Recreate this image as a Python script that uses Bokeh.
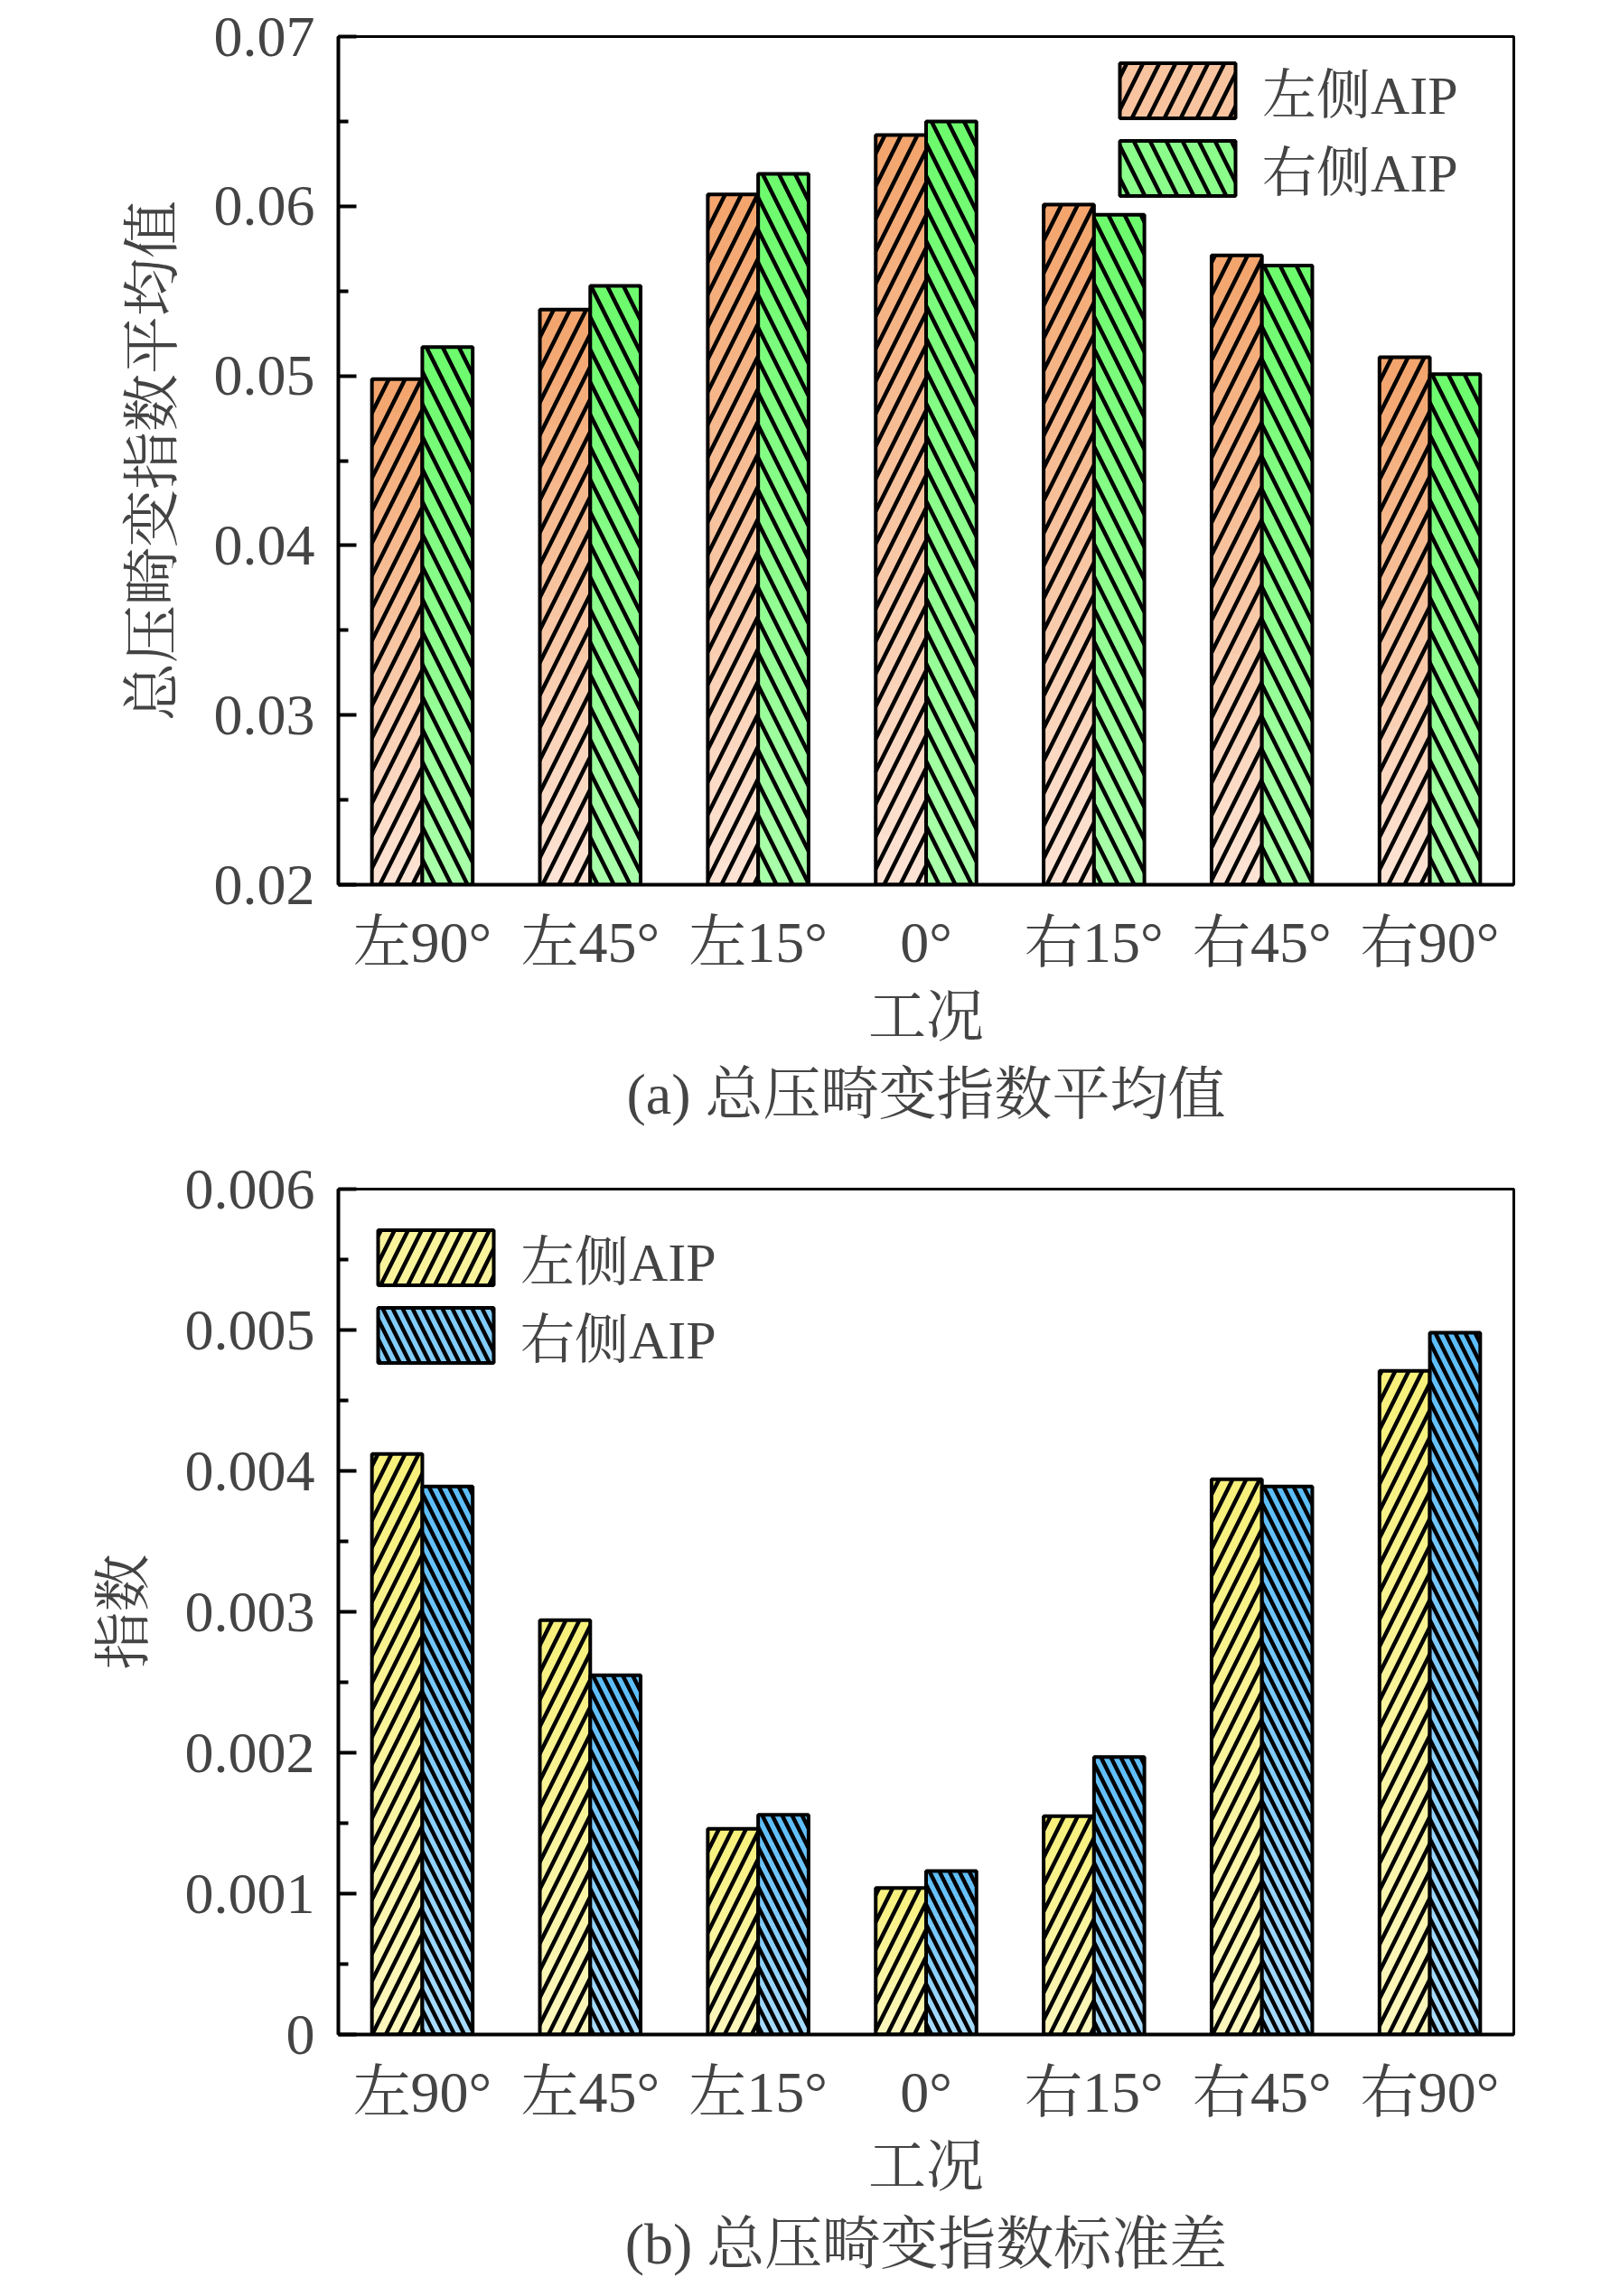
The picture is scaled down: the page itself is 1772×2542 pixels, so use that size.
from bokeh.plotting import figure
from bokeh.layouts import column
from bokeh.models import (ColumnDataSource, Range1d, FixedTicker, Legend, LegendItem, Title,
                          PrintfTickFormatter)
from bokeh.transform import dodge
from bokeh.embed import file_html
from bokeh.resources import INLINE

# data
cases = ["左90°", "左45°", "左15°", "0°", "右15°", "右45°", "右90°"]
series = ["左侧AIP", "右侧AIP"]

mean_left = [0.0498, 0.0539, 0.0607, 0.0642, 0.0601, 0.0571, 0.0511]
mean_right = [0.0517, 0.0553, 0.0619, 0.0650, 0.0595, 0.0565, 0.0501]

std_left = [0.00412, 0.00294, 0.00146, 0.00104, 0.00155, 0.00394, 0.00471]
std_right = [0.00389, 0.00255, 0.00156, 0.00116, 0.00197, 0.00389, 0.00498]

ticks_a = [0.02, 0.03, 0.04, 0.05, 0.06, 0.07]
ticks_b = [0, 0.001, 0.002, 0.003, 0.004, 0.005, 0.006]

FONT = "'Liberation Serif', 'Noto Serif CJK SC', 'Noto Sans CJK SC', serif"
FS = "64px"
NSTRIP = 30


def mix(c1, c2, t):
    a = [int(c1[i:i + 2], 16) for i in (1, 3, 5)]
    b = [int(c2[i:i + 2], 16) for i in (1, 3, 5)]
    return "#%02x%02x%02x" % tuple(round(a[k] + (b[k] - a[k]) * t) for k in range(3))


def gradient_source(values, base, c_low, c_high):
    cat, bot, top, col = [], [], [], []
    for c, v in zip(cases, values):
        h = (v - base) / NSTRIP
        for i in range(NSTRIP):
            cat.append(c)
            bot.append(base + i * h)
            top.append(base + (i + 1) * h + h * 0.05)
            col.append(mix(c_low, c_high, (i + 0.5) / NSTRIP))
    return ColumnDataSource(dict(cat=cat, bottom=bot, top=top, color=col))


def make_panel(vals_l, vals_r, base, y_end, ticks, fmt, ylabel, caption, styles,
               legend_loc, height, border_top, label_over):
    p = figure(x_range=cases, y_range=Range1d(base, y_end), width=1695, height=height,
               output_backend="svg", toolbar_location=None,
               min_border_left=374, min_border_right=20,
               min_border_top=border_top, min_border_bottom=280)
    p.xgrid.grid_line_color = None
    p.ygrid.grid_line_color = None
    p.outline_line_color = "black"
    p.outline_line_width = 3
    p.outline_line_alpha = 1
    p.x_range.range_padding = 0

    items = []
    for vals, off, (c_low, c_high, hatch, hscale, label) in zip(
            (vals_l, vals_r), (-0.15, 0.15), styles):
        src = gradient_source(vals, base, c_low, c_high)
        p.vbar(x=dodge("cat", off, range=p.x_range), bottom="bottom", top="top",
               width=0.3, source=src, fill_color="color", line_color=None)
        bsrc = ColumnDataSource(dict(cat=cases, top=vals))
        p.vbar(x=dodge("cat", off, range=p.x_range), top="top", bottom=base,
               width=0.3, source=bsrc, fill_alpha=0, line_color="black", line_width=4,
               hatch_pattern=hatch, hatch_scale=hscale, hatch_weight=4.5,
               hatch_color="black")
        # zero-height bar on the baseline, only used for the legend swatch
        dummy = p.vbar(x=[cases[0]], top=[base], bottom=[base], width=0.3,
                       fill_color=mix(c_low, c_high, 0.5), line_color="black",
                       line_width=4, hatch_pattern=hatch, hatch_scale=hscale,
                       hatch_weight=4.5, hatch_color="black")
        items.append(LegendItem(label=label, renderers=[dummy]))

    leg = Legend(items=items, location=legend_loc, border_line_color=None,
                 background_fill_alpha=0, glyph_width=160, glyph_height=76,
                 label_text_font=FONT, label_text_font_size="60px", label_standoff=14,
                 spacing=0, padding=0, margin=0)
    p.add_layout(leg)

    ya = p.yaxis[0]
    ya.ticker = FixedTicker(ticks=ticks,
                            minor_ticks=[(a + b) / 2 for a, b in zip(ticks[:-1], ticks[1:])])
    ya.formatter = PrintfTickFormatter(format=fmt)
    ya.major_label_overrides = label_over
    ya.major_tick_in = 20
    ya.major_tick_out = 0
    ya.minor_tick_in = 11
    ya.minor_tick_out = 0
    ya.major_tick_line_width = 4
    ya.minor_tick_line_width = 4
    ya.axis_line_width = 4
    ya.major_label_text_font = FONT
    ya.major_label_text_font_size = FS
    ya.major_label_standoff = 26
    ya.axis_label = ylabel
    ya.axis_label_text_font = FONT
    ya.axis_label_text_font_size = FS
    ya.axis_label_text_font_style = "normal"
    ya.axis_label_standoff = 30

    xa = p.xaxis[0]
    xa.major_tick_line_color = None
    xa.minor_tick_line_color = None
    xa.axis_line_width = 4
    xa.major_label_text_font = FONT
    xa.major_label_text_font_size = FS
    xa.major_label_standoff = 22
    xa.axis_label = "工况"
    xa.axis_label_text_font = FONT
    xa.axis_label_text_font_size = FS
    xa.axis_label_text_font_style = "normal"
    xa.axis_label_standoff = 8

    p.add_layout(Title(text=caption, align="center", text_font=FONT, text_font_size=FS,
                       text_font_style="normal", standoff=20), "below")
    return p


styles_a = [("#fce4d6", "#f3a46b", "right_diagonal_line", 36, series[0]),
            ("#aaffaa", "#6cfb6c", "left_diagonal_line", 36, series[1])]
styles_b = [("#fbf7bd", "#f7f07a", "right_diagonal_line", 30, series[0]),
            ("#a9dcfd", "#5bbcf8", "left_diagonal_line", 22, series[1])]

pa = make_panel(mean_left, mean_right, 0.02, 0.07, ticks_a, "%.2f", "总压畸变指数平均值",
                "(a) 总压畸变指数平均值", styles_a, (849, 750), 1259, 40, {})
pb = make_panel(std_left, std_right, 0, 0.006, ticks_b, "%.3f", "指数",
                "(b) 总压畸变指数标准差", styles_b, (28, 731), 1273, 57, {0: "0"})

layout = column(pa, pb, spacing=0)
open("out.html", "w").write(file_html(layout, INLINE))
